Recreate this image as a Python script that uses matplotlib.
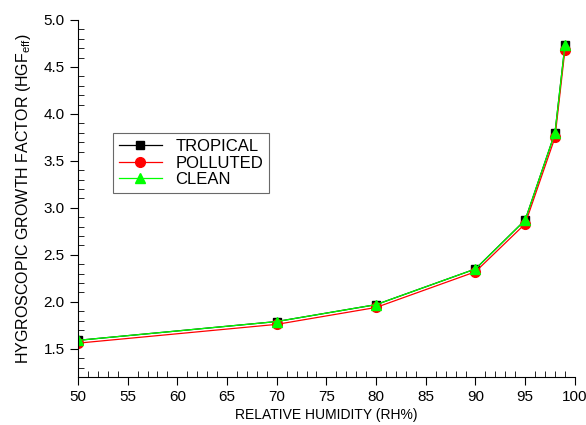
import matplotlib
matplotlib.use('Agg')
import matplotlib.pyplot as plt
from matplotlib.ticker import MultipleLocator

plt.rcParams['font.family'] = ['Liberation Sans', 'DejaVu Sans']

# Datos
rh = [50, 70, 80, 90, 95, 98, 99]
tropical = [1.59, 1.79, 1.97, 2.35, 2.87, 3.80, 4.73]
polluted = [1.56, 1.76, 1.94, 2.32, 2.83, 3.75, 4.68]
clean = [1.59, 1.79, 1.97, 2.35, 2.87, 3.80, 4.73]

fig = plt.figure(figsize=(5.86, 4.25), dpi=100)
ax = fig.add_axes([0.133, 0.113, 0.848, 0.84])

ax.plot(rh, tropical, color='black', lw=0.9, marker='s', ms=6, label='TROPICAL')
ax.plot(rh, polluted, color='red', lw=0.9, marker='o', ms=7, label='POLLUTED')
ax.plot(rh, clean, color='#00ff00', lw=0.9, marker='^', ms=7, label='CLEAN')

ax.set_xlim(50, 100)
ax.set_ylim(1.2, 5.0)
ax.xaxis.set_major_locator(MultipleLocator(5))
ax.xaxis.set_minor_locator(MultipleLocator(1))
ax.yaxis.set_major_locator(MultipleLocator(0.5))
ax.yaxis.set_minor_locator(MultipleLocator(0.1))
ax.yaxis.set_major_formatter(plt.FormatStrFormatter('%.1f'))

ax.spines['top'].set_visible(False)
ax.spines['right'].set_visible(False)
ax.tick_params(which='major', direction='out', length=6, labelsize=11)
ax.tick_params(which='minor', direction='in', length=4)

ax.set_xlabel('RELATIVE HUMIDITY (RH%)', fontsize=10, labelpad=3)
ax.set_ylabel('HYGROSCOPIC GROWTH FACTOR (HGF$_{\\mathregular{eff}}$)', fontsize=11.5, labelpad=8)

leg = ax.legend(loc='upper left', bbox_to_anchor=(0.07, 0.683), fontsize=12,
                frameon=True, fancybox=False, edgecolor='#444444',
                handlelength=2.6, borderpad=0.35, labelspacing=0.1,
                borderaxespad=0)
leg.get_frame().set_linewidth(0.8)

plt.savefig('out.png')
